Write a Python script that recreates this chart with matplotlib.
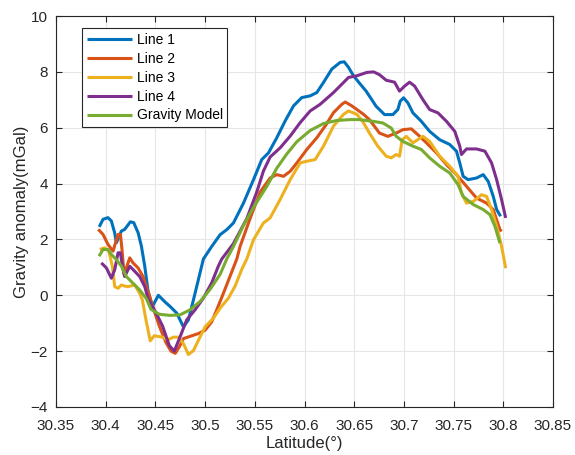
import numpy as np
import matplotlib
matplotlib.use("Agg")
import matplotlib.pyplot as plt

plt.rcParams['font.family'] = ['Liberation Sans', 'DejaVu Sans']

# Line 1
x1 = [30.3935, 30.3973, 30.4023, 30.4057, 30.4090, 30.4107, 30.4158, 30.4191, 30.4248, 30.4282,
      30.4326, 30.4359, 30.4393, 30.4426, 30.4470, 30.4530, 30.4600, 30.4648, 30.4715, 30.4782,
      30.4832, 30.4883, 30.4933, 30.4983, 30.5067, 30.5151, 30.5218, 30.5285, 30.5386, 30.5487,
      30.5570, 30.5638, 30.5721, 30.5805, 30.5889, 30.5973, 30.6057, 30.6124, 30.6191, 30.6275,
      30.6359, 30.6400, 30.6443, 30.6493, 30.6552, 30.6620, 30.6720, 30.6805, 30.6889, 30.6939,
      30.6963, 30.6997, 30.7040, 30.7091, 30.7175, 30.7259, 30.7360, 30.7461, 30.7529, 30.7562,
      30.7596, 30.7646, 30.7731, 30.7798, 30.7848, 30.7899, 30.7933, 30.7973]
y1 = [2.45, 2.72, 2.78, 2.66, 2.24, 1.88, 2.30, 2.36, 2.63, 2.60,
      2.24, 1.76, 1.04, 0.15, -0.40, 0.00, -0.25, -0.40, -0.64, -1.13,
      -0.88, -0.16, 0.57, 1.30, 1.75, 2.17, 2.35, 2.59, 3.30, 4.14,
      4.86, 5.10, 5.64, 6.24, 6.78, 7.08, 7.14, 7.26, 7.62, 8.10,
      8.34, 8.36, 8.16, 7.86, 7.60, 7.31, 6.77, 6.47, 6.47, 6.65,
      6.95, 7.07, 6.89, 6.53, 6.23, 5.87, 5.57, 5.40, 5.16, 4.74,
      4.26, 4.14, 4.20, 4.32, 4.08, 3.54, 3.07, 2.83]

# Line 2
x2 = [30.3925, 30.3973, 30.4023, 30.4074, 30.4124, 30.4148, 30.4165, 30.4185, 30.4242, 30.4275,
      30.4326, 30.4376, 30.4409, 30.4443, 30.4471, 30.4539, 30.4606, 30.4657, 30.4700, 30.4740,
      30.4782, 30.4849, 30.4933, 30.5000, 30.5067, 30.5117, 30.5185, 30.5252, 30.5319, 30.5352,
      30.5453, 30.5554, 30.5654, 30.5721, 30.5789, 30.5856, 30.5923, 30.6023, 30.6124, 30.6208,
      30.6292, 30.6376, 30.6410, 30.6477, 30.6594, 30.6653, 30.6754, 30.6838, 30.6923, 30.6990,
      30.7074, 30.7141, 30.7226, 30.7327, 30.7428, 30.7529, 30.7630, 30.7731, 30.7832, 30.7899,
      30.7966, 30.7983]
y2 = [2.36, 2.18, 1.82, 1.58, 2.18, 2.18, 1.60, 0.75, 1.34, 1.16,
      0.98, 0.67, 0.31, -0.05, -0.38, -1.10, -1.69, -2.00, -2.08, -1.85,
      -1.55, -1.47, -1.37, -1.25, -0.95, -0.52, 0.08, 0.69, 1.30, 1.75,
      2.75, 3.70, 4.20, 4.32, 4.26, 4.44, 4.74, 5.22, 5.64, 6.06,
      6.54, 6.84, 6.92, 6.78, 6.48, 6.29, 5.81, 5.69, 5.81, 5.93,
      5.96, 5.75, 5.46, 5.10, 4.68, 4.32, 3.90, 3.48, 3.30, 3.07,
      2.35, 2.29]

# Line 3
x3 = [30.3940, 30.3990, 30.4030, 30.4067, 30.4091, 30.4124, 30.4158, 30.4190, 30.4225, 30.4292,
      30.4342, 30.4369, 30.4404, 30.4448, 30.4488, 30.4572, 30.4623, 30.4680, 30.4732, 30.4782,
      30.4832, 30.4883, 30.4933, 30.5000, 30.5084, 30.5151, 30.5235, 30.5302, 30.5369, 30.5419,
      30.5487, 30.5587, 30.5654, 30.5755, 30.5856, 30.5956, 30.6023, 30.6107, 30.6191, 30.6292,
      30.6393, 30.6443, 30.6527, 30.6590, 30.6653, 30.6737, 30.6822, 30.6872, 30.6923, 30.6956,
      30.6983, 30.7024, 30.7091, 30.7192, 30.7259, 30.7360, 30.7461, 30.7545, 30.7579, 30.7630,
      30.7697, 30.7781, 30.7832, 30.7882, 30.7933, 30.7983, 30.8024]
y3 = [1.64, 1.70, 1.60, 1.04, 0.31, 0.25, 0.37, 0.33, 0.31, 0.37,
      0.07, -0.17, -0.86, -1.63, -1.45, -1.50, -1.60, -1.50, -1.50, -1.73,
      -2.12, -1.98, -1.61, -1.13, -0.82, -0.46, -0.10, 0.33, 0.93, 1.30,
      1.99, 2.59, 2.77, 3.43, 4.14, 4.74, 4.80, 4.86, 5.34, 6.06,
      6.48, 6.60, 6.48, 6.20, 5.81, 5.34, 4.98, 4.92, 5.04, 4.98,
      5.57, 5.69, 5.46, 5.69, 5.51, 4.98, 4.62, 4.26, 3.66, 3.30,
      3.36, 3.60, 3.54, 3.07, 2.47, 1.75, 0.97]

# Line 4
x4 = [30.3956, 30.4007, 30.4057, 30.4091, 30.4124, 30.4148, 30.4170, 30.4191, 30.4242, 30.4292,
      30.4342, 30.4393, 30.4426, 30.4505, 30.4572, 30.4640, 30.4690, 30.4748, 30.4815, 30.4899,
      30.4983, 30.5067, 30.5134, 30.5168, 30.5285, 30.5420, 30.5520, 30.5587, 30.5654, 30.5755,
      30.5856, 30.5956, 30.6057, 30.6158, 30.6292, 30.6393, 30.6443, 30.6527, 30.6628, 30.6695,
      30.6754, 30.6822, 30.6906, 30.6956, 30.7007, 30.7057, 30.7108, 30.7192, 30.7259, 30.7343,
      30.7428, 30.7512, 30.7562, 30.7579, 30.7630, 30.7731, 30.7815, 30.7882, 30.7933, 30.7983,
      30.8024]
y4 = [1.16, 0.98, 0.61, 0.92, 1.52, 1.52, 1.00, 0.67, 1.04, 0.86,
      0.67, 0.31, -0.11, -0.62, -1.10, -1.80, -2.00, -1.49, -0.88, -0.52,
      -0.10, 0.45, 1.05, 1.30, 1.85, 2.75, 3.70, 4.45, 4.95, 5.28,
      5.70, 6.18, 6.60, 6.84, 7.26, 7.62, 7.80, 7.86, 7.98, 8.00,
      7.90, 7.70, 7.63, 7.31, 7.49, 7.63, 7.49, 7.00, 6.65, 6.53,
      6.23, 5.87, 5.34, 5.04, 5.24, 5.24, 5.16, 4.74, 4.14, 3.42,
      2.77]

# Gravity Model
x5 = [30.3933, 30.3973, 30.4023, 30.4057, 30.4107, 30.4158, 30.4208, 30.4275, 30.4342, 30.4409,
      30.4455, 30.4539, 30.4648, 30.4748, 30.4849, 30.4950, 30.5050, 30.5151, 30.5218, 30.5285,
      30.5386, 30.5487, 30.5621, 30.5721, 30.5822, 30.5923, 30.6057, 30.6191, 30.6326, 30.6460,
      30.6552, 30.6687, 30.6788, 30.6872, 30.6923, 30.6990, 30.7091, 30.7175, 30.7259, 30.7360,
      30.7461, 30.7545, 30.7596, 30.7697, 30.7798, 30.7865, 30.7916, 30.7966]
y5 = [1.40, 1.64, 1.64, 1.46, 1.28, 1.04, 0.67, 0.43, 0.19, -0.12,
      -0.50, -0.68, -0.72, -0.70, -0.52, -0.22, 0.21, 0.75, 1.30, 1.75,
      2.50, 3.15, 3.90, 4.55, 5.06, 5.50, 5.90, 6.15, 6.26, 6.29,
      6.29, 6.23, 6.17, 5.99, 5.69, 5.51, 5.34, 5.22, 4.92, 4.62,
      4.38, 3.96, 3.54, 3.25, 3.07, 2.89, 2.47, 1.87]

series = [(x1, y1, 'Line 1'), (x2, y2, 'Line 2'), (x3, y3, 'Line 3'),
          (x4, y4, 'Line 4'), (x5, y5, 'Gravity Model')]
colors = ['#0072BD', '#D95319', '#EDB120', '#7E2F8E', '#77AC30']

xticks = [30.35, 30.4, 30.45, 30.5, 30.55, 30.6, 30.65, 30.7, 30.75, 30.8, 30.85]
xticklabels = ['30.35', '30.4', '30.45', '30.5', '30.55', '30.6', '30.65', '30.7', '30.75', '30.8', '30.85']
yticks = [-4, -2, 0, 2, 4, 6, 8, 10]

fig = plt.figure(figsize=(5.75, 4.55), dpi=100)
ax = fig.add_axes([56 / 575, 48 / 455, 497 / 575, 391 / 455])

for (x, y, name), c in zip(series, colors):
    ax.plot(x, y, color=c, lw=2.2, label=name, solid_capstyle='butt')

ax.set_xlim(30.35, 30.85)
ax.set_ylim(-4, 10)
ax.set_xticks(xticks)
ax.set_xticklabels(xticklabels)
ax.set_yticks(yticks)
ax.grid(True, color='#e6e6e6', lw=0.8)
ax.set_axisbelow(True)

dark = '#262626'
for s in ax.spines.values():
    s.set_color(dark)
    s.set_linewidth(0.8)
ax.tick_params(direction='in', length=4, width=0.8, colors=dark, labelsize=11,
               top=True, right=True)
ax.tick_params(axis='x', pad=9)
ax.tick_params(axis='y', pad=6)

ax.set_xlabel('Latitude(°)', fontsize=12, color=dark, labelpad=2)
ax.set_ylabel('Gravity anomaly(mGal)', fontsize=12, color=dark, labelpad=1)

leg = ax.legend(loc='upper left', bbox_to_anchor=(0.053, 0.969), borderaxespad=0,
                fontsize=10, fancybox=False, framealpha=1, edgecolor=dark,
                handlelength=3.2, handletextpad=0.35, borderpad=0.35, labelspacing=0.35)
leg.get_frame().set_linewidth(0.8)

fig.savefig('out.png', dpi=100)
